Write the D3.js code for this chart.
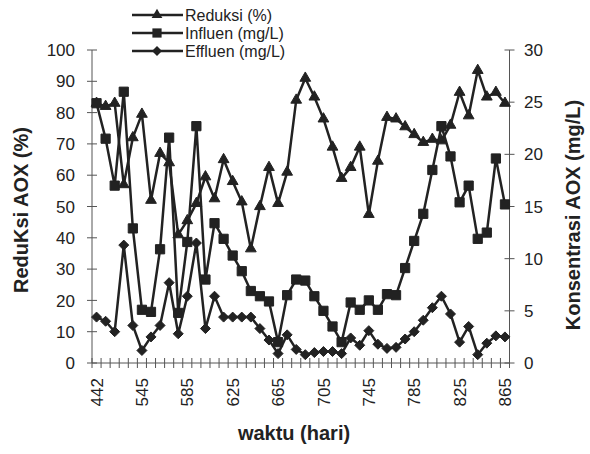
<!DOCTYPE html>
<html>
<head>
<meta charset="utf-8">
<script src="https://cdn.jsdelivr.net/npm/d3@7"></script>
<style>
  body { margin: 0; background: #fff; }
  text { font-family: "Liberation Sans", Arial, sans-serif; fill: #222; }
</style>
</head>
<body>
<div id="chart"></div>
<script>
// x axis labels, one every 5 samples
const tickLabels = ["442", "545", "585", "625", "665", "705", "745", "785", "825", "865"];
const labelEvery = 5;

// Reduksi AOX (%) - left axis
const reduksi = [83, 82, 83, 57, 72, 79.5, 52, 67, 64, 41, 45.5, 51, 59.5, 52.5, 65, 58, 51.5, 36.5, 50, 62.5,
  51, 61, 84, 91, 85, 78, 69, 59, 62.5, 69, 47.5, 64.5, 78.5, 78, 75.5, 73, 70.5, 71.5, 71, 76,
  86.5, 79, 93.5, 85, 86.5, 83];

// Influen and Effluen (mg/L) - right axis
const influen = [24.9, 21.5, 17.0, 26.0, 12.9, 5.1, 4.9, 10.9, 21.6, 4.8, 11.6, 22.7, 8.0, 13.4, 11.9, 10.3, 8.8, 6.9, 6.4, 5.9,
  2.0, 6.5, 8.0, 7.9, 6.4, 5.0, 3.5, 2.0, 5.8, 5.1, 6.0, 5.1, 6.6, 6.5, 9.1, 11.7, 14.3, 18.5, 22.7, 19.8,
  15.4, 17.0, 11.9, 12.5, 19.6, 15.2];
const effluen = [4.4, 4.0, 3.0, 11.3, 3.6, 1.2, 2.5, 3.6, 7.7, 2.8, 6.4, 11.5, 3.3, 6.4, 4.4, 4.4, 4.4, 4.4, 3.3, 2.2,
  0.9, 2.7, 1.3, 0.8, 1.0, 1.1, 1.1, 0.9, 2.4, 1.7, 3.1, 1.8, 1.4, 1.5, 2.3, 3.0, 4.1, 5.3, 6.4, 4.7,
  2.0, 3.5, 0.8, 1.9, 2.6, 2.5];

const leftTicks = d3.range(0, 101, 10);
const rightTicks = d3.range(0, 31, 5);

const width = 590, height = 454;
const plot = { left: 92, right: 509.5, top: 50, bottom: 363 };
const ink = "#222";

const svg = d3.select("#chart").append("svg")
  .attr("width", width)
  .attr("height", height);

const x = d3.scaleBand()
  .domain(d3.range(reduksi.length))
  .range([plot.left, plot.right])
  .paddingInner(0)
  .paddingOuter(0);
const cx = i => x(i) + x.bandwidth() / 2;

const yL = d3.scaleLinear().domain([0, 100]).range([plot.bottom, plot.top]);
const yR = d3.scaleLinear().domain([0, 30]).range([plot.bottom, plot.top]);

// axes
const axisColor = "#555";
svg.append("line")
  .attr("x1", plot.left).attr("x2", plot.left)
  .attr("y1", plot.top).attr("y2", plot.bottom)
  .attr("stroke", axisColor);
svg.append("line")
  .attr("x1", plot.right).attr("x2", plot.right)
  .attr("y1", plot.top).attr("y2", plot.bottom)
  .attr("stroke", axisColor);
svg.append("line")
  .attr("x1", plot.left).attr("x2", plot.right)
  .attr("y1", plot.bottom).attr("y2", plot.bottom)
  .attr("stroke", axisColor);

// left ticks + labels
svg.selectAll(".ltick").data(leftTicks).enter().append("line")
  .attr("x1", plot.left - 5).attr("x2", plot.left + 5)
  .attr("y1", d => yL(d)).attr("y2", d => yL(d))
  .attr("stroke", axisColor);
svg.selectAll(".llab").data(leftTicks).enter().append("text")
  .attr("x", 75).attr("y", d => yL(d))
  .attr("dy", "0.36em")
  .attr("text-anchor", "end")
  .style("font-size", "17px")
  .text(d => d);

// right ticks + labels
svg.selectAll(".rtick").data(rightTicks).enter().append("line")
  .attr("x1", plot.right - 5).attr("x2", plot.right + 5)
  .attr("y1", d => yR(d)).attr("y2", d => yR(d))
  .attr("stroke", axisColor);
svg.selectAll(".rlab").data(rightTicks).enter().append("text")
  .attr("x", 524).attr("y", d => yR(d))
  .attr("dy", "0.36em")
  .attr("text-anchor", "start")
  .style("font-size", "17px")
  .text(d => d);

// x ticks at category boundaries
const bounds = d3.range(reduksi.length + 1).map(i => plot.left + i * x.bandwidth());
svg.selectAll(".xtick").data(bounds).enter().append("line")
  .attr("x1", d => d).attr("x2", d => d)
  .attr("y1", plot.bottom - 5).attr("y2", plot.bottom + 5)
  .attr("stroke", axisColor);

svg.selectAll(".xlab").data(tickLabels).enter().append("text")
  .attr("transform", (d, k) => `translate(${cx(k * labelEvery)},${plot.bottom + 15}) rotate(-90)`)
  .attr("dy", "0.36em")
  .attr("text-anchor", "end")
  .style("font-size", "17px")
  .text(d => d);

// axis titles
svg.append("text")
  .attr("x", 294).attr("y", 440)
  .attr("text-anchor", "middle")
  .style("font-size", "20px").style("font-weight", "bold")
  .text("waktu (hari)");
svg.append("text")
  .attr("transform", "translate(28,210) rotate(-90)")
  .attr("text-anchor", "middle")
  .style("font-size", "20px").style("font-weight", "bold")
  .text("ReduKsi AOX (%)");
svg.append("text")
  .attr("transform", "translate(580,215) rotate(-90)")
  .attr("text-anchor", "middle")
  .style("font-size", "20px").style("font-weight", "bold")
  .text("Konsentrasi AOX (mg/L)");

// marker shapes
const tri = d3.symbol().type(d3.symbolTriangle).size(50)();
const sq = d3.symbol().type(d3.symbolSquare).size(85)();
const dia = "M0,-5L5,0L0,5L-5,0Z";

const series = [
  { name: "Reduksi (%)", values: reduksi, y: yL, marker: tri },
  { name: "Influen (mg/L)", values: influen, y: yR, marker: sq },
  { name: "Effluen (mg/L)", values: effluen, y: yR, marker: dia }
];

series.forEach(s => {
  const line = d3.line()
    .x((d, i) => cx(i))
    .y(d => s.y(d));
  svg.append("path")
    .datum(s.values)
    .attr("d", line)
    .attr("fill", "none")
    .attr("stroke", ink)
    .attr("stroke-width", 2.5)
    .attr("stroke-linejoin", "round");
  svg.selectAll(null).data(s.values).enter().append("path")
    .attr("d", s.marker)
    .attr("transform", (d, i) => `translate(${cx(i)},${s.y(d)})`)
    .attr("fill", ink)
    .attr("stroke", ink)
    .attr("stroke-width", 1);
});

// legend
const legend = svg.append("g");
series.forEach((s, k) => {
  const ly = 15 + k * 18;
  legend.append("line")
    .attr("x1", 132).attr("x2", 183)
    .attr("y1", ly).attr("y2", ly)
    .attr("stroke", ink).attr("stroke-width", 2.5);
  legend.append("path")
    .attr("d", s.marker)
    .attr("transform", `translate(157,${ly})`)
    .attr("fill", ink);
  legend.append("text")
    .attr("x", 185).attr("y", ly)
    .attr("dy", "0.36em")
    .style("font-size", "16px")
    .text(s.name);
});
</script>
</body>
</html>
